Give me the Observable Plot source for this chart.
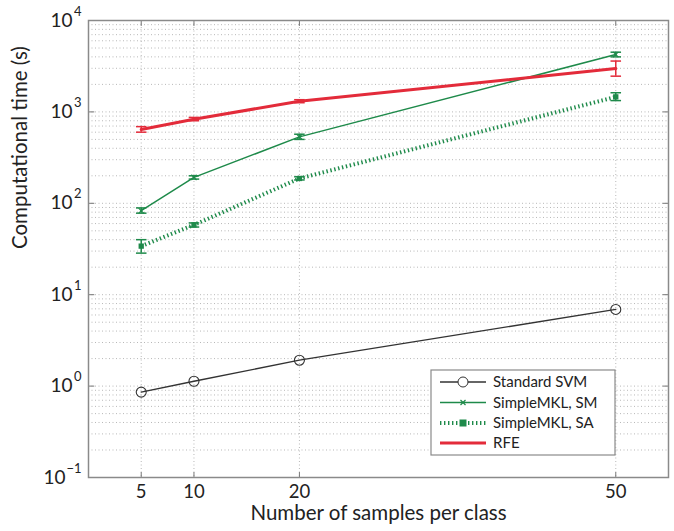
<!DOCTYPE html>
<html><head><meta charset="utf-8">
<script src="https://cdn.jsdelivr.net/npm/d3@7"></script>
<script src="https://cdn.jsdelivr.net/npm/@observablehq/plot@0.6"></script>
<style>
body{margin:0;background:#fff;}
#chart{position:relative;width:674px;height:531px;}
</style>
</head><body><div id="chart"></div>
<script>
// data
const samples = [5, 10, 20, 50];
const svmTime = [0.86, 1.13, 1.92, 6.9];
const smTime  = [83, 192, 533, 4240];
const smLow   = [78, 184, 500, 4000];
const smHigh  = [89, 200, 570, 4500];
const saTime  = [34, 58, 187, 1460];
const saLow   = [28.5, 55, 180, 1330];
const saHigh  = [40, 61, 195, 1620];
const rfeTime = [643, 832, 1309, 2980];
const rfeLow  = [600, 800, 1260, 2460];
const rfeHigh = [690, 870, 1360, 3600];
const xTicks = [5, 10, 20, 50];
const yTicks = [0.1, 1, 10, 100, 1000, 10000];
const yExp   = ["\u22121", "0", "1", "2", "3", "4"];
const seriesNames = ["Standard SVM", "SimpleMKL, SM", "SimpleMKL, SA", "RFE"];
const colors = {svm: "#333333", sm: "#1e8a4a", sa: "#1e8a4a", rfe: "#e32b3a"};
const FONT = "Lato, 'Open Sans', sans-serif";

const rows = (vals, lo, hi) => samples.map((x, i) => ({x, y: vals[i], lo: lo ? lo[i] : vals[i], hi: hi ? hi[i] : vals[i]}));
const svm = rows(svmTime);
const sm = rows(smTime, smLow, smHigh);
const sa = rows(saTime, saLow, saHigh);
const rfe = rows(rfeTime, rfeLow, rfeHigh);
const yLabels = yTicks.map((v, i) => ({v, e: yExp[i]}));

// log grid positions (1..9 per decade)
const gridY = [];
for (let e = -1; e < 4; e++) for (let m = 1; m < 10; m++) gridY.push(m * Math.pow(10, e));
gridY.push(10000);

const errMarks = (data, color, w) => [
  Plot.ruleX(data, {x: "x", y1: "lo", y2: "hi", stroke: color, strokeWidth: w}),
  Plot.link(data, {x1: d => d.x - 0.5, x2: d => d.x + 0.5, y1: "lo", y2: "lo", stroke: color, strokeWidth: w}),
  Plot.link(data, {x1: d => d.x - 0.5, x2: d => d.x + 0.5, y1: "hi", y2: "hi", stroke: color, strokeWidth: w})
];

const chart = Plot.plot({
  width: 674, height: 531,
  marginLeft: 88, marginRight: 6, marginTop: 20, marginBottom: 54,
  style: {fontFamily: FONT, background: "#fff"},
  x: {type: "linear", domain: [0, 55], axis: null},
  y: {type: "log", domain: [0.1, 10000], axis: null},
  marks: [
    Plot.ruleY(gridY, {stroke: "#b8b8b8", strokeDasharray: "1,2.5", strokeWidth: 1}),
    Plot.ruleX(xTicks, {stroke: "#b8b8b8", strokeDasharray: "1,2.5", strokeWidth: 1}),
    Plot.axisX({ticks: xTicks, tickSize: 0, tickPadding: 7, fontSize: 18.5, label: null, color: "#222"}),
    // y tick labels: base "10" and raised exponent
    Plot.text(yLabels, {filter: d => d.e.length === 1, frameAnchor: "left", y: "v", text: () => "10", textAnchor: "end", dx: -16, fontSize: 19, fill: "#222"}),
    Plot.text(yLabels, {filter: d => d.e.length > 1, frameAnchor: "left", y: "v", text: () => "10", textAnchor: "end", dx: -23, fontSize: 19, fill: "#222"}),
    Plot.text(yLabels, {frameAnchor: "left", y: "v", text: "e", textAnchor: "end", dx: -7, dy: -9, fontSize: 13, fill: "#222"}),
    Plot.text(["Number of samples per class"], {frameAnchor: "bottom", dy: 42, fontSize: 20.5, fill: "#222"}),
    Plot.text(["Computational time (s)"], {frameAnchor: "left", dx: -68, rotate: -90, fontSize: 20.5, fill: "#222"}),
    // inward ticks
    Plot.link(yTicks, {x1: 0, x2: 0.55, y1: d => d, y2: d => d, stroke: "#777"}),
    Plot.link(yTicks, {x1: 54.45, x2: 55, y1: d => d, y2: d => d, stroke: "#777"}),
    Plot.link(xTicks, {x1: d => d, x2: d => d, y1: 0.1, y2: 0.1147, stroke: "#777"}),
    Plot.link(xTicks, {x1: d => d, x2: d => d, y1: 10000, y2: 8720, stroke: "#777"}),
    Plot.frame({stroke: "#8a8a8a", strokeWidth: 1.5}),
    // Standard SVM
    Plot.line(svm, {x: "x", y: "y", stroke: colors.svm, strokeWidth: 1.3}),
    Plot.dot(svm, {x: "x", y: "y", r: 5, stroke: colors.svm, fill: "none", strokeWidth: 1.1}),
    // SimpleMKL SM
    Plot.line(sm, {x: "x", y: "y", stroke: colors.sm, strokeWidth: 1.5}),
    ...errMarks(sm, colors.sm, 1.5),
    Plot.dot(sm, {x: "x", y: "y", symbol: "times", r: 2.5, stroke: colors.sm, strokeWidth: 1.2}),
    // SimpleMKL SA
    Plot.line(sa, {x: "x", y: "y", stroke: colors.sa, strokeWidth: 4, strokeDasharray: "1.4,2.6", strokeLinecap: "butt", strokeLinejoin: "miter"}),
    ...errMarks(sa, colors.sa, 1.5),
    Plot.dot(sa, {x: "x", y: "y", symbol: "square", r: 3, fill: colors.sa}),
    // RFE
    Plot.line(rfe, {x: "x", y: "y", stroke: colors.rfe, strokeWidth: 3}),
    ...errMarks(rfe, colors.rfe, 1.5)
  ]
});

document.getElementById("chart").appendChild(chart);
const svg = d3.select(chart);

// legend
const lg = svg.append("g").attr("font-family", FONT).attr("font-size", 15).attr("text-anchor", "start");
lg.append("rect").attr("x", 431).attr("y", 370).attr("width", 184).attr("height", 85)
  .attr("fill", "#fff").attr("stroke", "#8a8a8a").attr("stroke-width", 1.2);
const ys = [382, 402.5, 423, 443];
const styles = [
  {c: colors.svm, w: 1.3, dash: null, m: "circle"},
  {c: colors.sm, w: 1.5, dash: null, m: "times"},
  {c: colors.sa, w: 4, dash: "1.4,2.6", m: "square"},
  {c: colors.rfe, w: 3, dash: null, m: null}
];
seriesNames.forEach((name, i) => {
  const s = styles[i], y = ys[i];
  const l = lg.append("line").attr("x1", 440).attr("x2", 486).attr("y1", y).attr("y2", y)
    .attr("stroke", s.c).attr("stroke-width", s.w);
  if (s.dash) l.attr("stroke-dasharray", s.dash);
  if (s.m === "circle") lg.append("circle").attr("cx", 463).attr("cy", y).attr("r", 5).attr("fill", "#fff").attr("stroke", s.c);
  if (s.m === "times") lg.append("path").attr("d", `M${460.5},${y-2.5}L${465.5},${y+2.5}M${460.5},${y+2.5}L${465.5},${y-2.5}`).attr("stroke", s.c).attr("stroke-width", 1.2);
  if (s.m === "square") lg.append("rect").attr("x", 459.5).attr("y", y - 3.5).attr("width", 7).attr("height", 7).attr("fill", s.c);
  lg.append("text").attr("x", 493).attr("y", y).attr("dy", "0.35em").attr("fill", "#222").attr("text-anchor", "start").text(name);
});
</script>
</body></html>
